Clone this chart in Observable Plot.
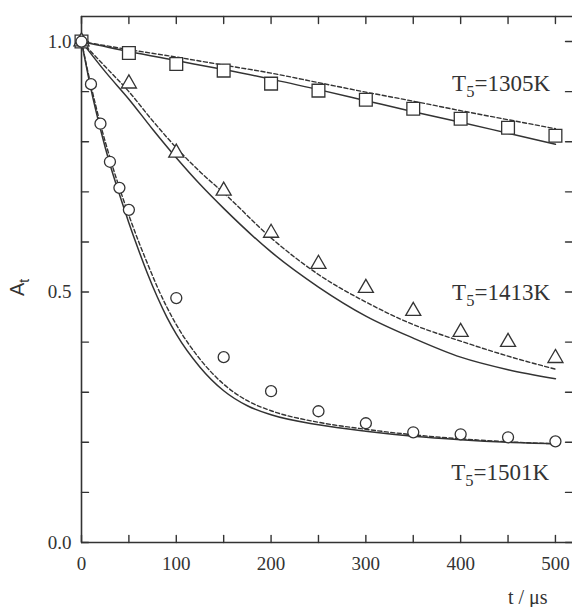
<!DOCTYPE html>
<html><head><meta charset="utf-8">
<script src="https://cdn.jsdelivr.net/npm/d3@7"></script>
<script src="https://cdn.jsdelivr.net/npm/@observablehq/plot@0.6"></script>
<style>body{margin:0;background:#fff;overflow:hidden}</style>
</head><body><div id="chart"></div>
<script>
// Measured points
const tMarks = [0, 50, 100, 150, 200, 250, 300, 350, 400, 450, 500];
const a1305 = [1.0, 0.977, 0.955, 0.942, 0.916, 0.902, 0.884, 0.866, 0.846, 0.828, 0.812];
const a1413 = [1.0, 0.916, 0.778, 0.702, 0.618, 0.556, 0.508, 0.462, 0.42, 0.4, 0.368];
const tCirc = [0, 10, 20, 30, 40, 50, 100, 150, 200, 250, 300, 350, 400, 450, 500];
const a1501 = [1.0, 0.915, 0.836, 0.76, 0.708, 0.664, 0.488, 0.37, 0.302, 0.262, 0.238, 0.22, 0.216, 0.21, 0.202];

// Model curves (solid and dashed)
const tFit1305 = [0, 50, 100, 150, 200, 250, 300, 350, 400, 450, 500];
const solid1305 = [1.0, 0.98, 0.962, 0.944, 0.925, 0.904, 0.882, 0.86, 0.839, 0.817, 0.795];
const dash1305 = [1.0, 0.984, 0.969, 0.953, 0.937, 0.918, 0.899, 0.881, 0.862, 0.844, 0.826];
const tFit1413 = [0, 25, 50, 75, 100, 125, 150, 200, 250, 300, 350, 400, 450, 500];
const solid1413 = [1.0, 0.94, 0.885, 0.825, 0.768, 0.715, 0.667, 0.58, 0.51, 0.452, 0.408, 0.37, 0.345, 0.327];
const dash1413 = [1.0, 0.95, 0.9, 0.842, 0.788, 0.74, 0.698, 0.608, 0.535, 0.48, 0.435, 0.402, 0.372, 0.346];
const tFit1501 = [0, 10, 20, 30, 40, 50, 60, 70, 80, 90, 100, 125, 150, 175, 200, 250, 300, 350, 400, 450, 500];
const solid1501 = [1.0, 0.905, 0.825, 0.755, 0.695, 0.638, 0.585, 0.535, 0.49, 0.45, 0.416, 0.35, 0.303, 0.273, 0.255, 0.235, 0.222, 0.212, 0.205, 0.2, 0.197];
const dash1501 = [1.0, 0.912, 0.835, 0.768, 0.708, 0.653, 0.602, 0.555, 0.51, 0.47, 0.435, 0.366, 0.316, 0.283, 0.263, 0.24, 0.226, 0.215, 0.207, 0.201, 0.197];

// Labels
const labelText = ["T5=1305K", "T5=1413K", "T5=1501K"];
const labelT = [391, 391, 390];
const labelA = [0.917, 0.498, 0.1385];

// Axis ticks
const xTicks = [0, 50, 100, 150, 200, 250, 300, 350, 400, 450, 500];
const xLabels = [0, 100, 200, 300, 400, 500];
const yTicks = [0, 0.1, 0.2, 0.3, 0.4, 0.5, 0.6, 0.7, 0.8, 0.9, 1.0];
const yLabels = [0, 0.5, 1.0];
const xMax = 518, yMax = 1.05;

const pts = (ts, as) => ts.map((t, i) => ({t, a: as[i]}));
const ink = "#333";
const tickShape = {draw(ctx, l) { ctx.moveTo(0, 0); ctx.lineTo(0, -l); }};
const vt = (data, opts) => Plot.vector(data, {length: 7, anchor: "start", shape: tickShape, stroke: ink, strokeWidth: 1.4, ...opts});

const labels = labelText.map((s, i) => ({s, t: labelT[i], a: labelA[i]}));

const svg = Plot.plot({
  width: 572, height: 607,
  marginLeft: 81, marginRight: 0, marginTop: 16, marginBottom: 65,
  style: {fontFamily: "'Liberation Serif', 'Times New Roman', serif", fontSize: "19px", color: ink, background: "#fff"},
  x: {domain: [0, xMax]},
  y: {domain: [0, yMax]},
  marks: [
    Plot.ruleX([0], {stroke: ink, strokeWidth: 1.6}),
    Plot.ruleY([0], {stroke: ink, strokeWidth: 1.6}),
    Plot.ruleY([yMax], {stroke: ink, strokeWidth: 1.6}),
    vt(xTicks, {x: d => d, y: 0, rotate: 0}),
    vt(xTicks, {x: d => d, y: yMax, rotate: 180}),
    vt(yTicks, {x: 0, y: d => d, rotate: 90}),
    vt(yTicks, {x: xMax, y: d => d, rotate: -90}),
    Plot.axisX({anchor: "bottom", ticks: xLabels, tickSize: 0, tickPadding: 14, label: null, fill: ink}),
    Plot.axisY({anchor: "left", ticks: yLabels, tickSize: 0, tickPadding: 10, tickFormat: d3.format(".1f"), label: null, fill: ink}),
    Plot.line(pts(tFit1305, solid1305), {x: "t", y: "a", curve: "monotone-x", stroke: ink, strokeWidth: 1.5}),
    Plot.line(pts(tFit1305, dash1305), {x: "t", y: "a", curve: "monotone-x", stroke: ink, strokeWidth: 1.4, strokeDasharray: "4,2.5"}),
    Plot.line(pts(tFit1413, solid1413), {x: "t", y: "a", curve: "monotone-x", stroke: ink, strokeWidth: 1.5}),
    Plot.line(pts(tFit1413, dash1413), {x: "t", y: "a", curve: "monotone-x", stroke: ink, strokeWidth: 1.4, strokeDasharray: "4,2.5"}),
    Plot.line(pts(tFit1501, solid1501), {x: "t", y: "a", curve: "monotone-x", stroke: ink, strokeWidth: 1.5}),
    Plot.line(pts(tFit1501, dash1501), {x: "t", y: "a", curve: "monotone-x", stroke: ink, strokeWidth: 1.4, strokeDasharray: "4,2.5"}),
    Plot.dot(pts(tMarks, a1305), {x: "t", y: "a", symbol: "square", r: 7.2, fill: "#fff", stroke: ink, strokeWidth: 1.3}),
    Plot.dot(pts(tMarks, a1413), {x: "t", y: "a", symbol: "triangle", r: 5.6, fill: "#fff", stroke: ink, strokeWidth: 1.3}),
    Plot.dot(pts(tCirc, a1501), {x: "t", y: "a", symbol: "circle", r: 5.5, fill: "#fff", stroke: ink, strokeWidth: 1.3}),
    Plot.text(labels, {x: "t", y: "a", text: "s", textAnchor: "start", lineAnchor: "middle", fontSize: 23, fill: ink}),
    Plot.text(["t / μs"], {frameAnchor: "bottom-right", dx: -25, dy: 55, textAnchor: "end", lineAnchor: "middle", fontSize: 20, fill: ink}),
    Plot.text(["A_t"], {frameAnchor: "left", dx: -64, dy: 8, rotate: -90, textAnchor: "middle", lineAnchor: "middle", fontSize: 20, fill: ink, fontFamily: "'Liberation Sans', Arial, sans-serif"})
  ]
});

const NS = "http://www.w3.org/2000/svg";
function sub(el, main, s, rest, shift, size) {
  el.textContent = "";
  const a = document.createElementNS(NS, "tspan"); a.textContent = main; el.appendChild(a);
  const b = document.createElementNS(NS, "tspan"); b.textContent = s; b.setAttribute("dy", shift); b.setAttribute("font-size", size); el.appendChild(b);
  if (rest) { const c = document.createElementNS(NS, "tspan"); c.textContent = rest; c.setAttribute("dy", -shift); el.appendChild(c); }
}
svg.querySelectorAll("text").forEach(el => {
  const s = el.textContent;
  if (/^T5=/.test(s)) sub(el, "T", "5", s.slice(2), 6, "0.72em");
  else if (s === "A_t") sub(el, "A", "t", "", 5, "0.7em");
});
document.getElementById("chart").appendChild(svg);
</script>
</body></html>
